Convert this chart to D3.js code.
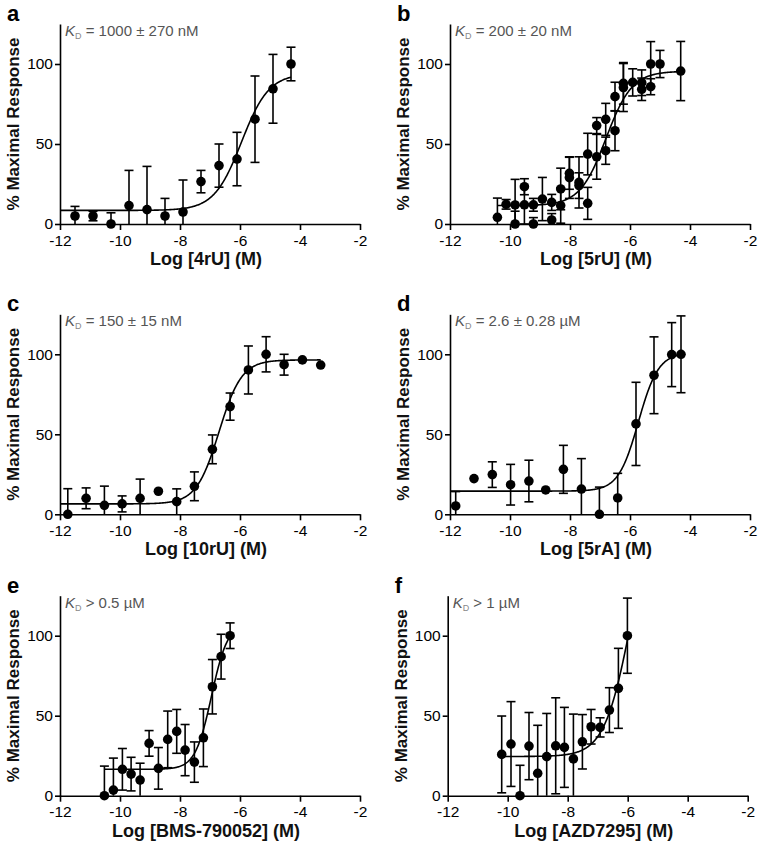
<!DOCTYPE html>
<html>
<head>
<meta charset="utf-8">
<script src="https://cdn.jsdelivr.net/npm/d3@7"></script>
<style>
  html, body { margin: 0; padding: 0; background: #fff; }
  svg text { font-family: "Liberation Sans", Arial, sans-serif; }
</style>
</head>
<body>
<svg id="chart" width="760" height="847"></svg>
<script>
// ---------- DATA ----------
const panelLetters = ["a", "b", "c", "d", "e", "f"];
const xAxisTitles = ["Log [4rU] (M)", "Log [5rU] (M)", "Log [10rU] (M)", "Log [5rA] (M)", "Log [BMS-790052] (M)", "Log [AZD7295] (M)"];
const yAxisTitle = "% Maximal Response";
const kdTexts = [" = 1000 ± 270 nM", " = 200 ± 20 nM", " = 150 ± 15 nM", " = 2.6 ± 0.28 µM", " > 0.5 µM", " > 1 µM"];
const xTickValues = [-12, -10, -8, -6, -4, -2];
const xTickLabels = ["-12", "-10", "-8", "-6", "-4", "-2"];
const yTickValues = [0, 50, 100];
const yTickLabels = ["0", "50", "100"];

// Panel a: 4rU
const logConcA = [-11.5, -10.9, -10.3, -9.7, -9.1, -8.5, -7.9, -7.3, -6.7, -6.1, -5.5, -4.9, -4.3];
const respA    = [5, 5, 0, 11.5, 9, 5, 7.5, 26.5, 36.5, 40.6, 65.5, 84.5, 100];
const semA     = [6, 3, 7, 22, 27, 11, 20, 7, 13.5, 16.7, 27, 21.5, 10.5];
const fitA     = [8.5, 94, -5.95, 0.95];   // bottom, top, logEC50, Hill
const fitRangeA = [-12, -4.3];

// Panel b: 5rU
const logConcB = [-10.42, -10.13, -9.83, -9.83, -9.52, -9.52, -9.22, -9.22, -8.92, -8.61, -8.61, -8.31, -8.31, -8.02, -8.02, -7.7, -7.7, -7.41, -7.41, -7.11, -7.11, -6.81, -6.81, -6.5, -6.5, -6.22, -6.22, -5.91, -5.61, -5.61, -5.31, -5.31, -5.0, -4.31];
const respB    = [4.2, 12.3, 11.9, 0, 23.3, 12, 12, 0, 15.6, 13.5, 2.5, 11.5, 21.9, 31.7, 29, 26, 24, 43.7, 12.9, 61.5, 42, 65.4, 45.8, 79.6, 58.3, 87.9, 85.3, 88.5, 88.3, 84.2, 100, 85.8, 100, 95.6];
const semB     = [12, 3, 16, 8, 5, 12, 4, 4, 13.5, 5, 4, 11, 13, 10, 13, 16, 8, 13, 10, 5, 14, 10, 8.5, 9, 12.5, 13, 15, 8.5, 8, 7, 14, 5, 8.5, 18.5];
const fitB     = [11.5, 95.5, -6.8, 1.0];
const fitRangeB = [-10.42, -4.31];

// Panel c: 10rU
const logConcC = [-11.74, -11.13, -10.52, -9.93, -9.33, -8.72, -8.11, -7.52, -6.92, -6.33, -5.72, -5.13, -4.53, -3.92, -3.31];
const respC    = [0, 10, 5.6, 6.5, 10, 14.4, 7.9, 17.5, 40.6, 67.3, 90.2, 100, 93.5, 96.5, 93.3];
const semC     = [16, 6.5, 12, 5, 12, 0, 8, 9, 9, 8.5, 15, 11, 6.5, 0, 0];
const fitC     = [6.5, 96.5, -6.7, 1.15];
const fitRangeC = [-12, -3.31];

// Panel d: 5rA
const logConcD = [-11.81, -11.2, -10.59, -9.98, -9.37, -8.81, -8.22, -7.62, -7.02, -6.41, -5.8, -5.2, -4.61, -4.3];
const respD    = [5.2, 22.3, 24.8, 18.5, 20.8, 15.2, 28.1, 15.8, 0, 10.2, 56.5, 86.9, 99.8, 100];
const semD     = [9, 0, 8, 12.7, 13, 0, 15, 19, 17, 15.4, 26, 24, 20, 24];
const fitD     = [14.5, 101, -5.72, 1.3];
const fitRangeD = [-12, -4.3];

// Panel e: BMS-790052
const logConcE = [-10.52, -10.22, -9.92, -9.63, -9.33, -9.03, -8.72, -8.41, -8.11, -7.83, -7.52, -7.22, -6.92, -6.63, -6.33];
const respE    = [0, 3.5, 16.5, 13.5, 9.8, 32.7, 17.1, 35.2, 40.2, 28.5, 21, 36.2, 68.1, 86.9, 100];
const semE     = [18.5, 20, 13, 10.5, 10.5, 8, 13, 17.7, 13.7, 16, 12.6, 18, 17, 14, 8];
const fitE     = [16.5, 108, -6.95, 1.6];
const fitRangeE = [-10.52, -6.33];

// Panel f: AZD7295
const logConcF = [-10.2, -9.89, -9.59, -9.29, -9.0, -8.7, -8.4, -8.11, -7.81, -7.51, -7.22, -6.92, -6.61, -6.31, -6.01];
const respF    = [25.8, 32.3, 0, 31, 14, 24.4, 31.2, 30.2, 23, 33.7, 43.1, 42.7, 53.5, 67.1, 100];
const semF     = [24, 26.5, 19, 21, 30, 27, 30, 25, 28, 17, 10.8, 6, 14, 25, 23.5];
const fitF     = [24.5, 186.5, -5.92, 1.0];
const fitRangeF = [-10.2, -6.01];

const panelsData = [
  {x: logConcA, y: respA, e: semA, fit: fitA, range: fitRangeA},
  {x: logConcB, y: respB, e: semB, fit: fitB, range: fitRangeB},
  {x: logConcC, y: respC, e: semC, fit: fitC, range: fitRangeC},
  {x: logConcD, y: respD, e: semD, fit: fitD, range: fitRangeD},
  {x: logConcE, y: respE, e: semE, fit: fitE, range: fitRangeE},
  {x: logConcF, y: respF, e: semF, fit: fitF, range: fitRangeF}
];

// ---------- LAYOUT ----------
const layout = [
  {x0: 60,    y0: 224},
  {x0: 450,   y0: 224},
  {x0: 60,    y0: 514.3},
  {x0: 450,   y0: 514.3},
  {x0: 60,    y0: 795.7},
  {x0: 447.7, y0: 795.7}
];
const plotW = 300, plotH = 200;

const svg = d3.select("#chart");

function logistic(p, x) {
  const [bottom, top, logEC50, hill] = p;
  return bottom + (top - bottom) / (1 + Math.pow(10, (logEC50 - x) * hill));
}

panelsData.forEach((pd, i) => {
  const L = layout[i];
  const x = d3.scaleLinear().domain([-12, -2]).range([L.x0, L.x0 + plotW]);
  const y = d3.scaleLinear().domain([0, 125]).range([L.y0, L.y0 - plotH]);
  const g = svg.append("g");

  // axes
  const xAxis = d3.axisBottom(x).tickValues(xTickValues)
    .tickFormat((d, k) => xTickLabels[k]).tickSizeInner(6).tickSizeOuter(0).tickPadding(4);
  const yAxis = d3.axisLeft(y).tickValues(yTickValues)
    .tickFormat((d, k) => yTickLabels[k]).tickSizeInner(5).tickSizeOuter(0).tickPadding(2);

  const gx = g.append("g").attr("transform", `translate(0,${L.y0})`).call(xAxis);
  const gy = g.append("g").attr("transform", `translate(${L.x0},0)`).call(yAxis);
  [gx, gy].forEach(a => {
    a.select(".domain").attr("stroke", "#000").attr("stroke-width", 1.6);
    a.selectAll(".tick line").attr("stroke", "#000").attr("stroke-width", 1.6);
    a.selectAll(".tick text").attr("fill", "#000").style("font-size", "15.5px")
      .style("font-family", '"Liberation Sans", Arial, sans-serif');
  });
  gx.selectAll(".tick text").attr("dy", "0.75em");

  // titles
  g.append("text")
    .attr("x", L.x0 + plotW / 2 - 4).attr("y", L.y0 + 41)
    .attr("text-anchor", "middle").style("font-size", "18px").style("font-weight", "bold")
    .attr("fill", "#111").text(xAxisTitles[i]);

  const ytx = L.x0 - 41;
  g.append("text")
    .attr("transform", `translate(${ytx},${L.y0 - plotH / 2}) rotate(-90)`)
    .attr("text-anchor", "middle").style("font-size", "17px").style("font-weight", "bold")
    .attr("fill", "#111").text(yAxisTitle);

  // panel letter
  g.append("text")
    .attr("x", L.x0 - 53).attr("y", L.y0 - 203)
    .style("font-size", "22px").style("font-weight", "bold").attr("fill", "#000")
    .text(panelLetters[i]);

  // KD annotation
  const kd = g.append("text")
    .attr("x", L.x0 + 5).attr("y", L.y0 - 188)
    .style("font-size", "15px").attr("fill", "#555");
  kd.append("tspan").style("font-style", "italic").text("K");
  kd.append("tspan").attr("dy", 3).style("font-size", "9px").attr("fill", "#888").text("D");
  kd.append("tspan").attr("dy", -3).text(kdTexts[i]);

  // fitted curve
  const xs = d3.range(pd.range[0], pd.range[1], 0.02).concat([pd.range[1]]);
  const line = d3.line().x(d => x(d)).y(d => y(logistic(pd.fit, d))).curve(d3.curveLinear);
  g.append("path").datum(xs).attr("d", line)
    .attr("fill", "none").attr("stroke", "#000").attr("stroke-width", 1.6);

  // error bars
  const pts = pd.x.map((xv, k) => ({x: xv, y: pd.y[k], e: pd.e[k]}));
  const capW = 4.5;
  pts.forEach(p => {
    if (!p.e) return;
    const lo = p.y - p.e, hi = p.y + p.e;
    const loC = Math.max(0, lo), hiC = Math.min(125, hi);
    g.append("line").attr("x1", x(p.x)).attr("x2", x(p.x))
      .attr("y1", y(loC)).attr("y2", y(hiC))
      .attr("stroke", "#000").attr("stroke-width", 1.6);
    if (hi <= 125) g.append("line").attr("x1", x(p.x) - capW).attr("x2", x(p.x) + capW)
      .attr("y1", y(hi)).attr("y2", y(hi)).attr("stroke", "#000").attr("stroke-width", 1.6);
    if (lo >= 0) g.append("line").attr("x1", x(p.x) - capW).attr("x2", x(p.x) + capW)
      .attr("y1", y(lo)).attr("y2", y(lo)).attr("stroke", "#000").attr("stroke-width", 1.6);
  });

  // markers
  g.selectAll("circle.pt").data(pts).enter().append("circle")
    .attr("class", "pt")
    .attr("cx", d => x(d.x)).attr("cy", d => y(d.y)).attr("r", 4.8)
    .attr("fill", "#000");
});
</script>
</body>
</html>
